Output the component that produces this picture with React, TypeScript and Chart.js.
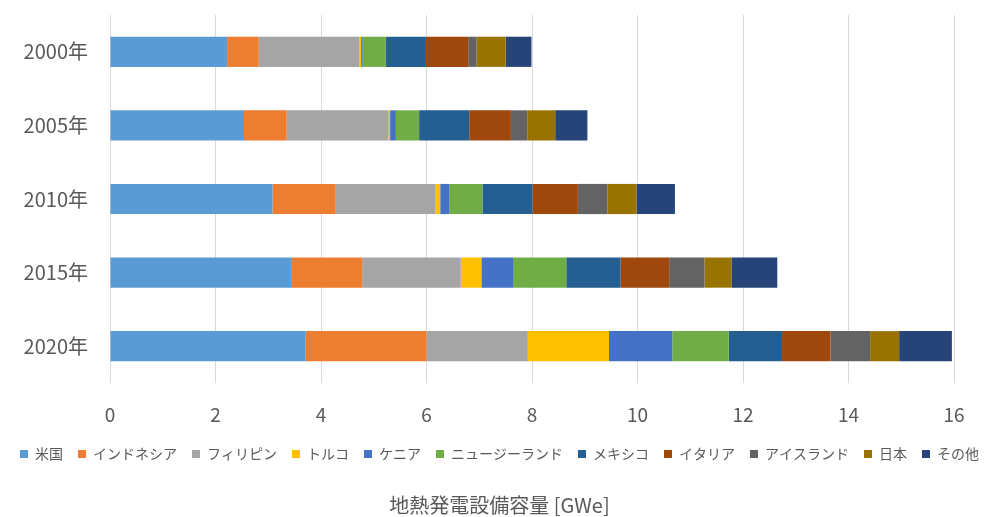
import React, { useEffect, useRef } from "react";
import { Chart, registerables } from "chart.js";

Chart.register(...registerables);

// Years on the category axis
const years = ["2000年", "2005年", "2010年", "2015年", "2020年"];

// Installed geothermal capacity per country [GWe]
const usa = [2.22, 2.54, 3.08, 3.43, 3.71];
const indonesia = [0.6, 0.81, 1.2, 1.35, 2.29];
const philippines = [1.91, 1.93, 1.89, 1.87, 1.92];
const turkey = [0.03, 0.03, 0.09, 0.39, 1.54];
const kenya = [0.03, 0.11, 0.17, 0.6, 1.2];
const newZealand = [0.44, 0.44, 0.63, 1.01, 1.07];
const mexico = [0.76, 0.95, 0.95, 1.03, 1.01];
const italy = [0.8, 0.79, 0.86, 0.92, 0.92];
const iceland = [0.16, 0.31, 0.56, 0.67, 0.75];
const japan = [0.55, 0.53, 0.55, 0.51, 0.55];
const others = [0.49, 0.61, 0.73, 0.87, 1.0];

const seriesNames = [
  "米国",
  "インドネシア",
  "フィリピン",
  "トルコ",
  "ケニア",
  "ニュージーランド",
  "メキシコ",
  "イタリア",
  "アイスランド",
  "日本",
  "その他",
];
const seriesValues = [
  usa,
  indonesia,
  philippines,
  turkey,
  kenya,
  newZealand,
  mexico,
  italy,
  iceland,
  japan,
  others,
];
const seriesColors = [
  "#5B9BD5",
  "#ED7D31",
  "#A5A5A5",
  "#FFC000",
  "#4472C4",
  "#70AD47",
  "#255E91",
  "#9E480E",
  "#636363",
  "#997300",
  "#264478",
];

const axisMin = 0;
const axisMax = 16;
const axisStep = 2;
const axisTitle = "地熱発電設備容量 [GWe]";

const FONT = "'Noto Sans CJK JP', 'Noto Sans', sans-serif";
const TEXT = "#595959";

export default function App() {
  const canvasRef = useRef<HTMLCanvasElement | null>(null);

  useEffect(() => {
    const canvas = canvasRef.current;
    if (!canvas) return;
    Chart.defaults.font.family = FONT;

    const chart = new Chart(canvas, {
      type: "bar",
      data: {
        labels: years,
        datasets: seriesNames.map((name, i) => ({
          label: name,
          data: seriesValues[i],
          backgroundColor: seriesColors[i],
          borderWidth: 0,
          xAxisID: "x",
          yAxisID: "y",
          categoryPercentage: 1,
          barPercentage: 0.41,
        })),
      },
      options: {
        indexAxis: "y",
        animation: false,
        responsive: false,
        devicePixelRatio: 1,
        layout: { padding: { top: 15, left: 0, right: 0, bottom: 0 } },
        scales: {
          x: {
            type: "linear",
            stacked: true,
            min: axisMin,
            max: axisMax,
            ticks: {
              stepSize: axisStep,
              color: TEXT,
              font: { size: 19, family: FONT },
              padding: 20,
            },
            grid: { color: "#D9D9D9", lineWidth: 1, drawTicks: false },
            border: { display: false },
            afterFit: (s: any) => {
              s.height = 49;
              s.paddingLeft = 0;
              s.paddingRight = 0;
            },
          },
          y: {
            type: "category",
            stacked: true,
            grid: { display: false, drawTicks: false },
            border: { display: false },
            ticks: {
              color: TEXT,
              font: { size: 20, family: FONT },
              padding: 22,
            },
            afterFit: (s: any) => {
              s.width = 110;
              s.paddingTop = 0;
              s.paddingBottom = 0;
            },
          },
          yRight: {
            type: "linear",
            position: "right",
            display: true,
            ticks: { display: false },
            grid: { display: false, drawTicks: false },
            border: { display: false },
            afterFit: (s: any) => {
              s.width = 45;
              s.paddingTop = 0;
              s.paddingBottom = 0;
            },
          },
        },
        plugins: {
          legend: {
            position: "bottom",
            labels: {
              boxWidth: 8,
              boxHeight: 8,
              padding: 15,
              color: TEXT,
              font: { size: 14, family: FONT },
            },
          },
          title: {
            display: true,
            position: "bottom",
            text: axisTitle,
            color: TEXT,
            font: { size: 20, weight: "normal", family: FONT },
            padding: { top: 22, bottom: 0 },
          },
          tooltip: { enabled: false },
        },
      },
    } as any);

    return () => chart.destroy();
  }, []);

  return (
    <div
      style={{
        position: "absolute",
        left: 0,
        top: 0,
        width: 999,
        height: 517,
        background: "#ffffff",
      }}
    >
      <canvas ref={canvasRef} width={999} height={517} />
    </div>
  );
}
